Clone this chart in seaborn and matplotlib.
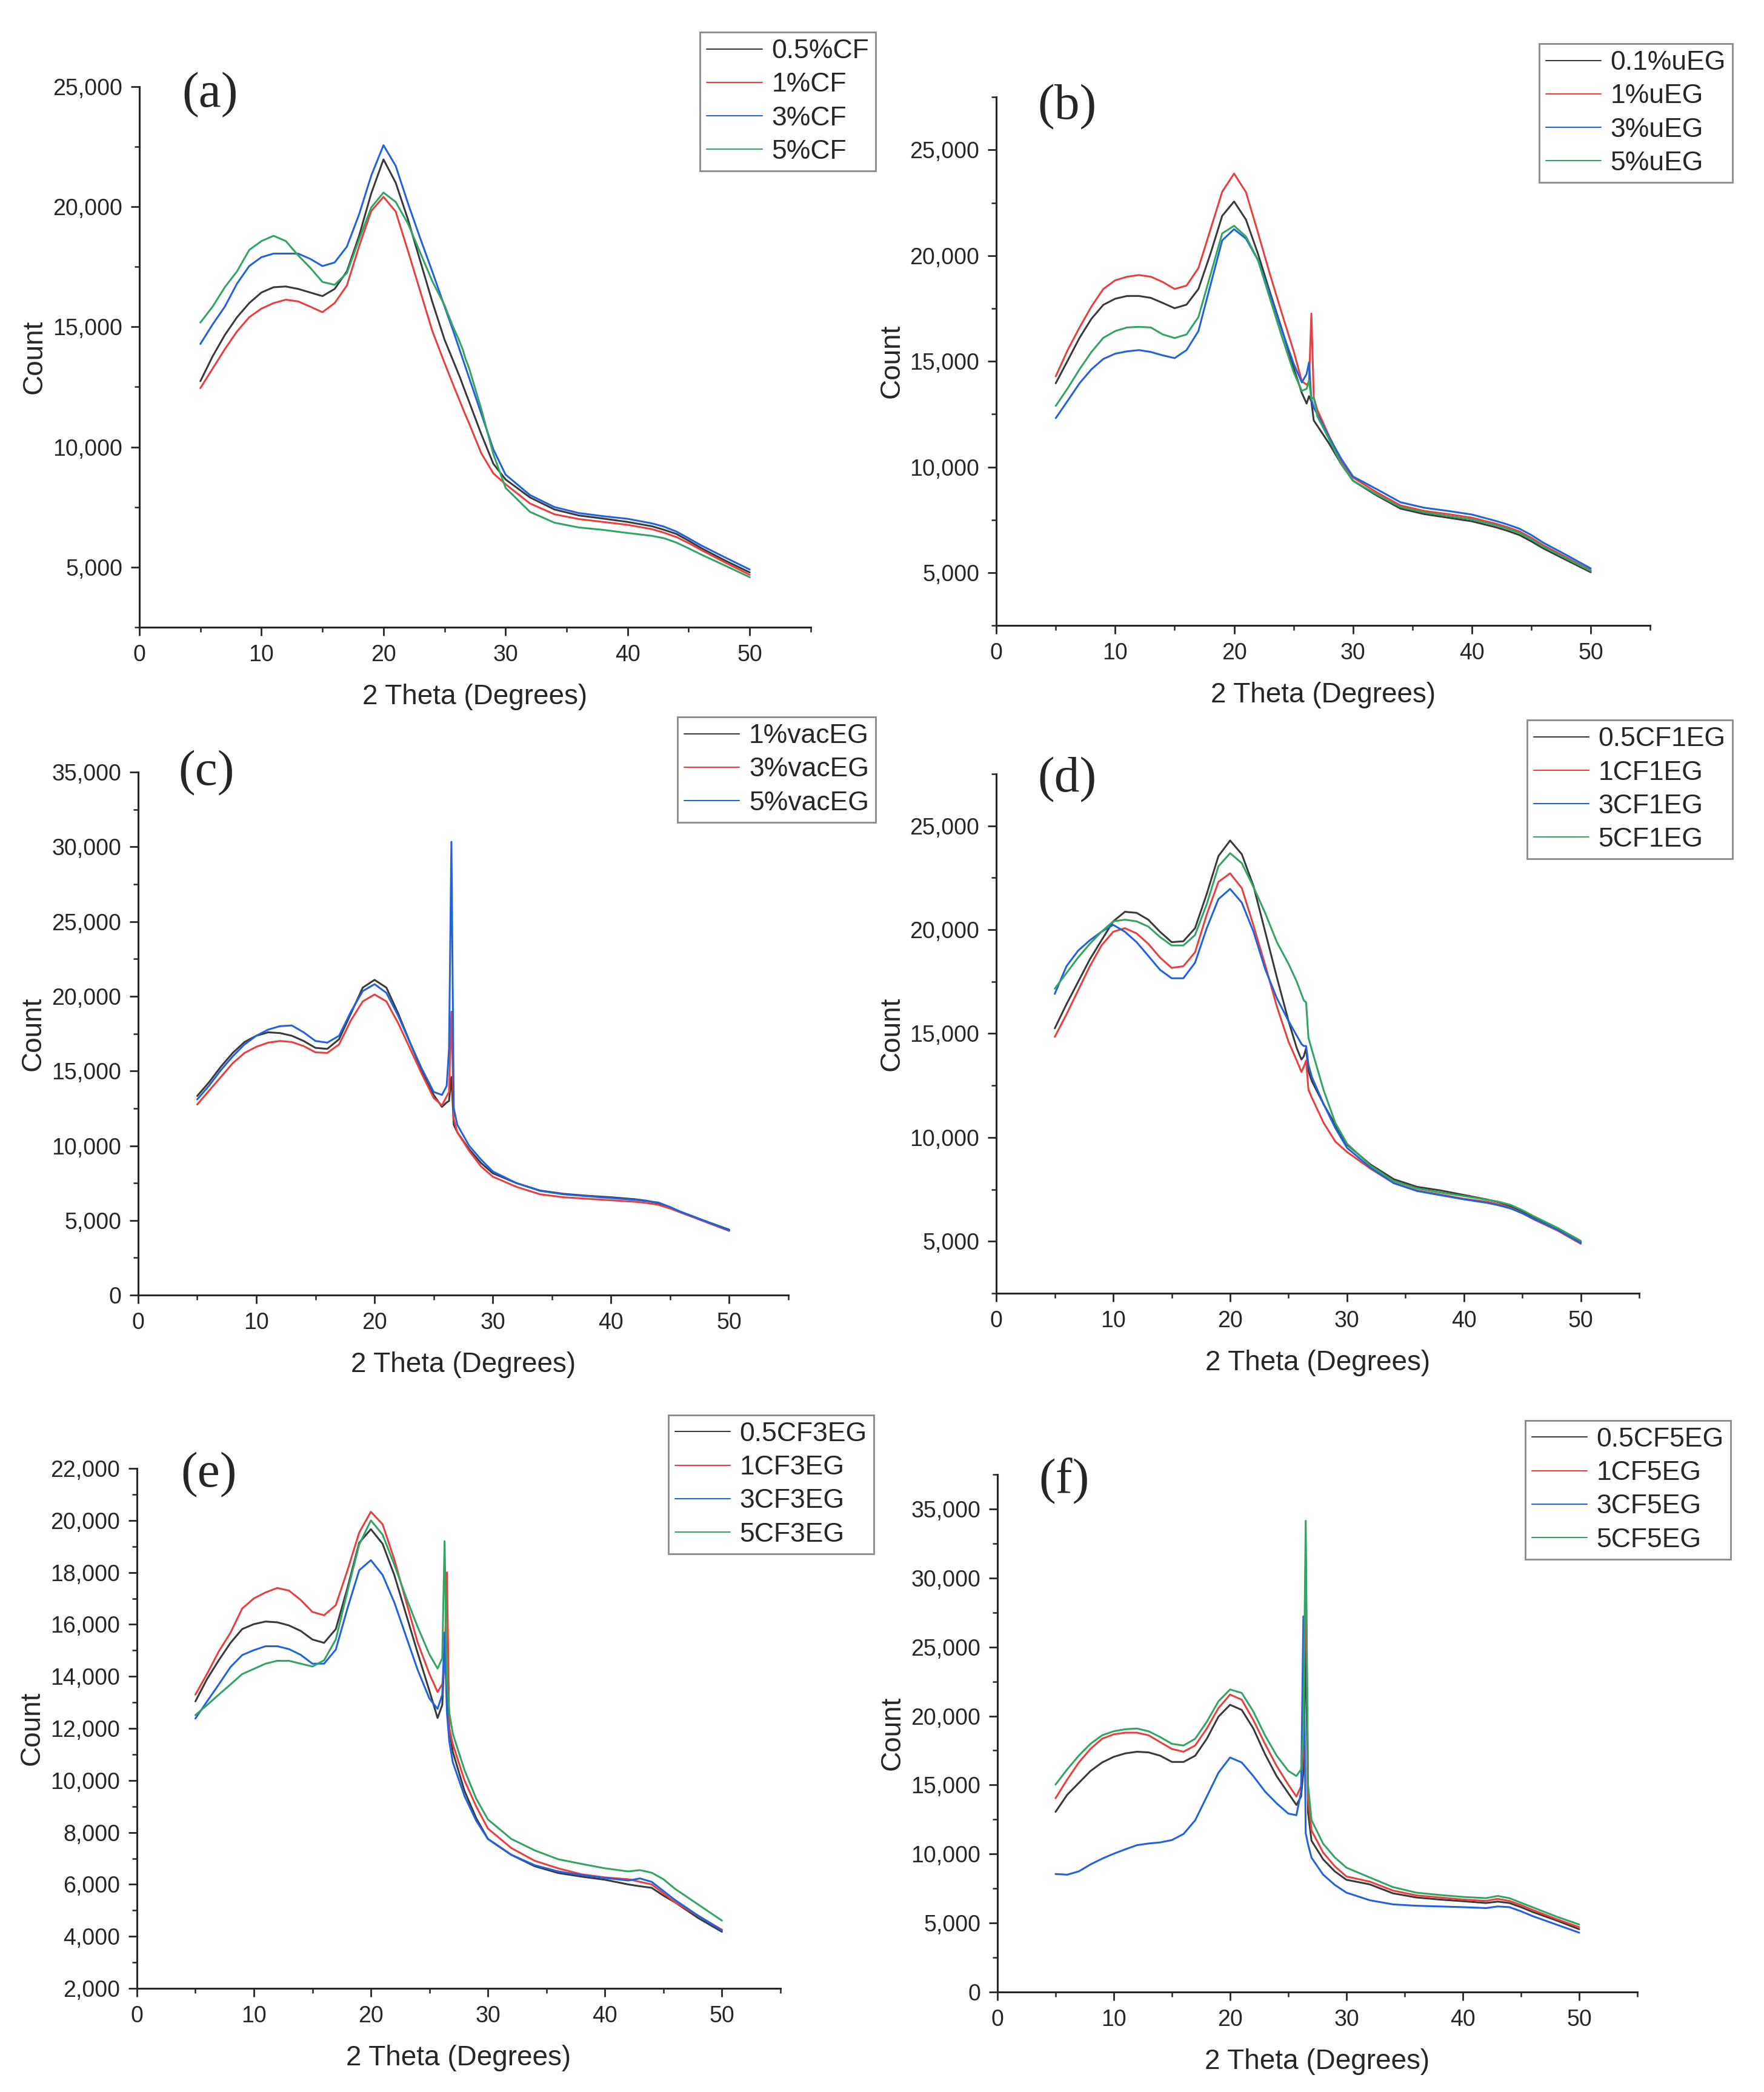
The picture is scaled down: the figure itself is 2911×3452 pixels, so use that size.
import matplotlib.pyplot as plt
import matplotlib.ticker as mticker
import pandas as pd
import seaborn as sns

sns.set_style('ticks')
plt.rcParams['font.family'] = ['Liberation Sans', 'DejaVu Sans']

# 2 theta positions read for every pattern
two_theta = [5, 6, 7, 8, 9, 10, 11, 12, 13, 14, 15, 16, 17, 18, 19, 20,
             21, 22, 23, 24, 25,
             25.7, 26.1, 26.3, 26.5, 26.7, 27, 28, 29, 30,
             32, 34, 36, 38, 40, 42, 43, 44, 45, 46, 48, 50]

colors = ['#3a3a3a', '#e8403f', '#2262dc', '#33a464']

# (a) carbon fibre
a_labels = ['0.5%CF', '1%CF', '3%CF', '5%CF']
a_05 = [12740, 13770, 14660, 15400, 15990, 16430, 16650, 16680, 16580, 16430, 16280, 16580, 17310, 18790, 20560, 21970,
        21000, 19480, 17760, 16040, 14470,
        13600, 13100, 12850, 12570, 12300, 11900, 10550, 9300, 8650,
        7900, 7400, 7150, 7020, 6880, 6700, 6550, 6380, 6100, 5800, 5270, 4780]
a_1 = [12450, 13260, 14070, 14810, 15400, 15760, 15990, 16130, 16060, 15840, 15610, 15990, 16720, 18350, 19820, 20410,
       19800, 18170, 16500, 14830, 13500,
       12600, 12100, 11850, 11600, 11350, 11000, 9750, 8900, 8450,
       7650, 7200, 7000, 6880, 6760, 6580, 6430, 6250, 6000, 5720, 5190, 4680]
a_3 = [14290, 15100, 15840, 16800, 17530, 17900, 18050, 18050, 18050, 17830, 17530, 17680, 18340, 19680, 21300, 22560,
       21700, 20150, 18700, 17300, 15850,
       14850, 14250, 13950, 13650, 13350, 12900, 11400, 9900, 8850,
       8000, 7500, 7250, 7120, 7010, 6820, 6680, 6480, 6200, 5910, 5400, 4900]
a_5 = [15180, 15840, 16650, 17310, 18200, 18570, 18790, 18570, 17980, 17460, 16870, 16750, 17240, 18640, 19970, 20590,
       20200, 19300, 18100, 16900, 15900,
       15000, 14550, 14300, 14050, 13700, 13300, 11600, 9700, 8300,
       7300, 6850, 6650, 6550, 6420, 6300, 6200, 6020, 5780, 5530, 5060, 4580]

# (b) untreated EG
b_labels = ['0.1%uEG', '1%uEG', '3%uEG', '5%uEG']
b_01 = [13960, 15030, 16110, 17010, 17670, 17960, 18090, 18090, 18000, 17760, 17510, 17680, 18420, 20070, 21880, 22560,
        21700, 20100, 18300, 16550, 14700,
        13500, 13000, 13350, 13100, 12200, 11950, 11100, 10150, 9350,
        8650, 8030, 7770, 7600, 7430, 7150, 6980, 6780, 6480, 6150, 5580, 5020]
b_1 = [14290, 15530, 16600, 17590, 18420, 18830, 19000, 19080, 19000, 18750, 18420, 18580, 19410, 21210, 23020, 23880,
       23000, 21100, 19150, 17300, 15500,
       14050, 13900, 14000, 17260, 13300, 12700, 11450, 10300, 9500,
       8800, 8180, 7920, 7770, 7600, 7320, 7150, 6950, 6650, 6300, 5710, 5110]
b_3 = [12310, 13130, 13960, 14620, 15110, 15360, 15470, 15530, 15440, 15280, 15150, 15530, 16430, 18580, 20720, 21250,
       20800, 19800, 18200, 16500, 14900,
       14000, 14400, 14950, 13200, 12800, 12500, 11400, 10400, 9550,
       8950, 8330, 8070, 7920, 7750, 7450, 7280, 7080, 6780, 6420, 5820, 5200]
b_5 = [12890, 13720, 14620, 15440, 16110, 16430, 16600, 16630, 16600, 16270, 16100, 16270, 17090, 19070, 21050, 21410,
       20900, 19800, 18000, 16200, 14500,
       13600, 13700, 14100, 13200, 13300, 12400, 11300, 10150, 9350,
       8700, 8100, 7850, 7680, 7520, 7250, 7080, 6880, 6580, 6230, 5650, 5080]

# (c) vacuum EG
c_labels = ['1%vacEG', '3%vacEG', '5%vacEG']
c_1 = [13330, 14250, 15290, 16210, 16940, 17360, 17590, 17540, 17360, 17010, 16550, 16480, 17130, 18850, 20580, 21100,
       20580, 18850, 16900, 15000, 13400,
       12600, 12900, 13000, 14600, 11400, 10900, 9770, 8850, 8160,
       7500, 7000, 6780, 6650, 6550, 6420, 6320, 6150, 5850, 5550, 4950, 4380]
c_3 = [12760, 13680, 14600, 15520, 16210, 16620, 16900, 17010, 16940, 16670, 16250, 16210, 16780, 18390, 19660, 20120,
       19660, 18200, 16500, 14800, 13200,
       12700, 13300, 13600, 18970, 11800, 10900, 9660, 8620, 7930,
       7250, 6750, 6550, 6450, 6350, 6250, 6170, 6050, 5800, 5500, 4900, 4300]
c_5 = [13100, 14020, 15060, 15980, 16780, 17360, 17770, 18000, 18050, 17590, 17010, 16900, 17360, 18970, 20350, 20810,
       20230, 18700, 16900, 15150, 13600,
       13400, 14000, 16500, 30340, 12500, 11400, 10000, 9080, 8280,
       7500, 6980, 6750, 6620, 6500, 6380, 6300, 6200, 5900, 5540, 4940, 4340]

# (d) CF + 1 EG
d_labels = ['0.5CF1EG', '1CF1EG', '3CF1EG', '5CF1EG']
d_05 = [15250, 16410, 17490, 18570, 19490, 20400, 20860, 20810, 20480, 19900, 19400, 19440, 20070, 21720, 23540, 24290,
        23630, 22100, 19900, 17700, 15600,
        14300, 13750, 13900, 14300, 13200, 12700, 11600, 10600, 9650,
        8700, 7990, 7620, 7450, 7230, 7010, 6880, 6690, 6450, 6150, 5610, 4960]
d_1 = [14840, 15920, 17080, 18240, 19240, 19900, 20070, 19820, 19320, 18660, 18160, 18240, 18910, 20730, 22300, 22710,
       22000, 20200, 18300, 16300, 14600,
       13700, 13150, 13400, 13700, 12300, 11900, 10700, 9800, 9300,
       8500, 7800, 7450, 7250, 7050, 6900, 6780, 6600, 6350, 6050, 5520, 4880]
d_3 = [16910, 18240, 18990, 19490, 19900, 20230, 19900, 19400, 18740, 18070, 17660, 17660, 18410, 20070, 21470, 21960,
       21300, 19900, 18100, 16700, 15600,
       14900, 14500, 14400, 14400, 13500, 12900, 11600, 10450, 9500,
       8550, 7800, 7420, 7220, 7020, 6850, 6730, 6580, 6350, 6080, 5560, 4920]
d_5 = [17160, 17910, 18660, 19320, 19900, 20400, 20480, 20400, 20150, 19650, 19240, 19240, 19740, 21230, 23050, 23680,
       23200, 22050, 20800, 19400, 18350,
       17500, 16900, 16600, 16500, 14800, 14200, 12270, 10700, 9700,
       8650, 7900, 7550, 7350, 7180, 7000, 6900, 6750, 6500, 6200, 5650, 5020]

# (e) CF + 3 EG
e_labels = ['0.5CF3EG', '1CF3EG', '3CF3EG', '5CF3EG']
e_05 = [13040, 13900, 14620, 15290, 15820, 16010, 16110, 16080, 15960, 15750, 15420, 15290, 15820, 17410, 19140, 19660,
        19100, 17900, 16400, 14900, 13450,
        12400, 12900, 15000, 13500, 12000, 11100, 9600, 8550, 7750,
        7140, 6700, 6440, 6300, 6180, 6000, 5930, 5870, 5570, 5310, 4700, 4180]
e_1 = [13300, 14100, 14960, 15680, 16610, 17000, 17230, 17400, 17300, 16940, 16480, 16350, 16740, 18080, 19530, 20330,
       19850, 18500, 16900, 15300, 14100,
       13400, 13700, 14500, 18000, 12000, 11400, 10000, 9000, 8150,
       7400, 6910, 6620, 6390, 6270, 6200, 6100, 6000, 5660, 5310, 4790, 4260]
e_3 = [12380, 13040, 13690, 14360, 14820, 15010, 15160, 15160, 15050, 14830, 14490, 14490, 15030, 16620, 18080, 18470,
       17900, 16850, 15550, 14250, 13150,
       12750, 13300, 15690, 12600, 11500, 10700, 9400, 8450, 7750,
       7140, 6740, 6500, 6360, 6250, 6150, 6230, 6100, 5750, 5400, 4790, 4230]
e_5 = [12510, 12900, 13300, 13690, 14090, 14290, 14490, 14600, 14600, 14490, 14380, 14620, 15420, 17280, 19070, 20000,
       19450, 18300, 17050, 15900, 14850,
       14300, 14700, 19200, 13800, 12600, 11800, 10400, 9300, 8500,
       7750, 7310, 6970, 6790, 6620, 6500, 6550, 6450, 6200, 5830, 5220, 4610]

# (f) CF + 5 EG
f_labels = ['0.5CF5EG', '1CF5EG', '3CF5EG', '5CF5EG']
f_05 = [13050, 14290, 15150, 16010, 16630, 17040, 17290, 17410, 17360, 17120, 16670, 16670, 17120, 18350, 19950, 20810,
        20440, 19090, 17240, 15640, 14410,
        13550, 14160, 16000, 25740, 13000, 10960, 9610, 8740, 8130,
        7800, 7150, 6850, 6700, 6580, 6450, 6550, 6450, 6150, 5800, 5200, 4550]
f_1 = [14040, 15390, 16630, 17610, 18350, 18670, 18790, 18790, 18600, 18100, 17610, 17410, 17860, 19090, 20570, 21550,
       21180, 19700, 17980, 16380, 15030,
       14160, 14900, 17500, 31650, 14000, 11700, 10100, 9110, 8370,
       8000, 7350, 7000, 6850, 6700, 6600, 6750, 6600, 6300, 5950, 5300, 4700]
f_3 = [8550, 8500, 8740, 9240, 9660, 10020, 10340, 10640, 10760, 10840, 11010, 11450, 12440, 14160, 15890, 16990,
       16630, 15640, 14530, 13670, 12930,
       12810, 14500, 27220, 11500, 10700, 9730, 8500, 7760, 7200,
       6650, 6350, 6250, 6200, 6150, 6080, 6200, 6150, 5850, 5500, 4900, 4300]
f_5 = [15030, 16130, 17130, 17980, 18600, 18890, 19040, 19090, 18890, 18470, 17980, 17860, 18350, 19580, 21060, 21920,
       21670, 20320, 18600, 17130, 16020,
       15650, 16130, 19000, 34140, 15000, 12460, 10740, 9750, 9010,
       8300, 7600, 7200, 7030, 6890, 6800, 6960, 6800, 6470, 6140, 5480, 4890]

W, H = 2911, 3452
fig = plt.figure(figsize=(W / 100, H / 100), dpi=100)


def panel(rect, letter, letter_pos, labels, series, ylim, ymajor, yminor, leg_anchor):
    ax = fig.add_axes(rect)
    rows = []
    for lab, vals in zip(labels, series):
        for t, c in zip(two_theta, vals):
            rows.append((lab, t, c))
    df = pd.DataFrame(rows, columns=['sample', 'theta', 'count'])
    sns.lineplot(data=df, x='theta', y='count', hue='sample', hue_order=labels,
                 palette=colors[:len(labels)], estimator=None, sort=False,
                 lw=2.2, ax=ax)

    ax.set_xlim(0, 55)
    ax.set_ylim(*ylim)
    ax.xaxis.set_major_locator(mticker.MultipleLocator(10))
    ax.xaxis.set_minor_locator(mticker.MultipleLocator(5))
    ax.yaxis.set_major_locator(mticker.MultipleLocator(ymajor))
    ax.yaxis.set_minor_locator(mticker.MultipleLocator(yminor))
    ax.yaxis.set_major_formatter(mticker.StrMethodFormatter('{x:,.0f}'))
    sns.despine(ax=ax)
    for s in ['left', 'bottom']:
        ax.spines[s].set_linewidth(2.2)
    ax.tick_params(which='major', direction='out', length=10, width=2, labelsize=27, pad=10)
    ax.tick_params(which='minor', direction='out', length=6, width=1.8)
    ax.set_xlabel('2 Theta (Degrees)', fontsize=33, labelpad=21)
    ax.set_ylabel('Count', fontsize=33, labelpad=6)

    handles, labs = ax.get_legend_handles_labels()
    leg = ax.legend(handles, labs, loc='upper right', bbox_to_anchor=leg_anchor,
                    bbox_transform=fig.transFigure, frameon=True, fancybox=False,
                    edgecolor='#8a8a8a', framealpha=1, fontsize=32,
                    handlelength=2.05, handletextpad=0.35, borderpad=0.25,
                    labelspacing=0.32, borderaxespad=0)
    leg.get_frame().set_linewidth(2)
    for ln in leg.get_lines():
        ln.set_linewidth(1.5)

    fig.text(letter_pos[0] / W, 1 - letter_pos[1] / H, letter, ha='left', va='center',
             fontsize=60, family=['Liberation Serif', 'DejaVu Serif'])
    return ax


panel([0.0790, 0.7002, 0.3806, 0.2584], '(a)', (300, 157), a_labels, [a_05, a_1, a_3, a_5],
      (2500, 25000), 5000, 2500, (0.4964, 0.9846))
panel([0.5648, 0.7010, 0.3707, 0.2526], '(b)', (1712, 177), b_labels, [b_01, b_1, b_3, b_5],
      (2500, 27500), 5000, 2500, (0.9821, 0.9791))
panel([0.0783, 0.3809, 0.3686, 0.2500], '(c)', (294, 1276), c_labels, [c_1, c_3, c_5],
      (0, 35000), 5000, 2500, (0.4964, 0.6573))
panel([0.5648, 0.3818, 0.3645, 0.2483], '(d)', (1712, 1287), d_labels, [d_05, d_1, d_3, d_5],
      (2500, 27500), 5000, 2500, (0.9821, 0.6558))
panel([0.0776, 0.0495, 0.3648, 0.2486], '(e)', (298, 2434), e_labels, [e_05, e_1, e_3, e_5],
      (2000, 22000), 2000, 1000, (0.4954, 0.3236))
panel([0.5654, 0.0478, 0.3628, 0.2474], '(f)', (1714, 2443), f_labels, [f_05, f_1, f_3, f_5],
      (0, 37500), 5000, 2500, (0.9811, 0.3210))

fig.savefig('out.png', dpi=100, facecolor='white')
